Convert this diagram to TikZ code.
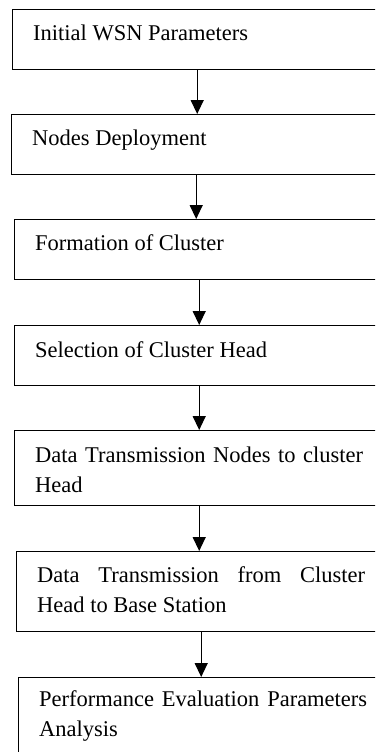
\documentclass[tikz,border=0pt]{standalone}
\usepackage{fontspec}
\setmainfont{Liberation Serif}
\usepackage{tikz}
\usetikzlibrary{arrows.meta}

\begin{document}
\begin{tikzpicture}[x=1pt, y=-1pt,
    stepbox/.style={draw, line width=1.4pt, anchor=north west, text width=328pt,
      align=justify, inner xsep=20.5pt, inner ysep=0pt, text height=31pt,
      font=\fontsize{22.5}{29.5}\selectfont},
    flow/.style={-{Triangle[width=13pt,length=14pt]}, line width=1.3pt}]
    \useasboundingbox (0,0) rectangle (375,752);
    \clip (0,0) rectangle (375,752);

    \node[stepbox, text depth=29pt] (s1) at (12,9) {Initial WSN Parameters};
    \node[stepbox, text depth=29pt] (s2) at (11,114) {Nodes Deployment};
    \node[stepbox, text depth=29pt] (s3) at (14,219) {Formation of Cluster};
    \node[stepbox, text height=32pt, text depth=28pt] (s4) at (14,325) {Selection of Cluster Head};
    \node[stepbox, text height=32pt, text depth=43pt] (s5) at (14,430) {Data Transmission Nodes to cluster Head};
    \node[stepbox, text depth=49pt] (s6) at (16,551) {Data Transmission from Cluster Head to Base Station};
    \node[stepbox, text height=29pt, text depth=90pt] (s7) at (18,677) {Performance Evaluation Parameters Analysis};

    \draw[flow] (s1.south) -- (s1.south |- s2.north);
    \draw[flow] (s2.south) -- (s2.south |- s3.north);
    \draw[flow] (s3.south) -- (s3.south |- s4.north);
    \draw[flow] (s4.south) -- (s4.south |- s5.north);
    \draw[flow] (s5.south) -- (s5.south |- s6.north);
    \draw[flow] (s6.south) -- (s6.south |- s7.north);
\end{tikzpicture}
\end{document}
